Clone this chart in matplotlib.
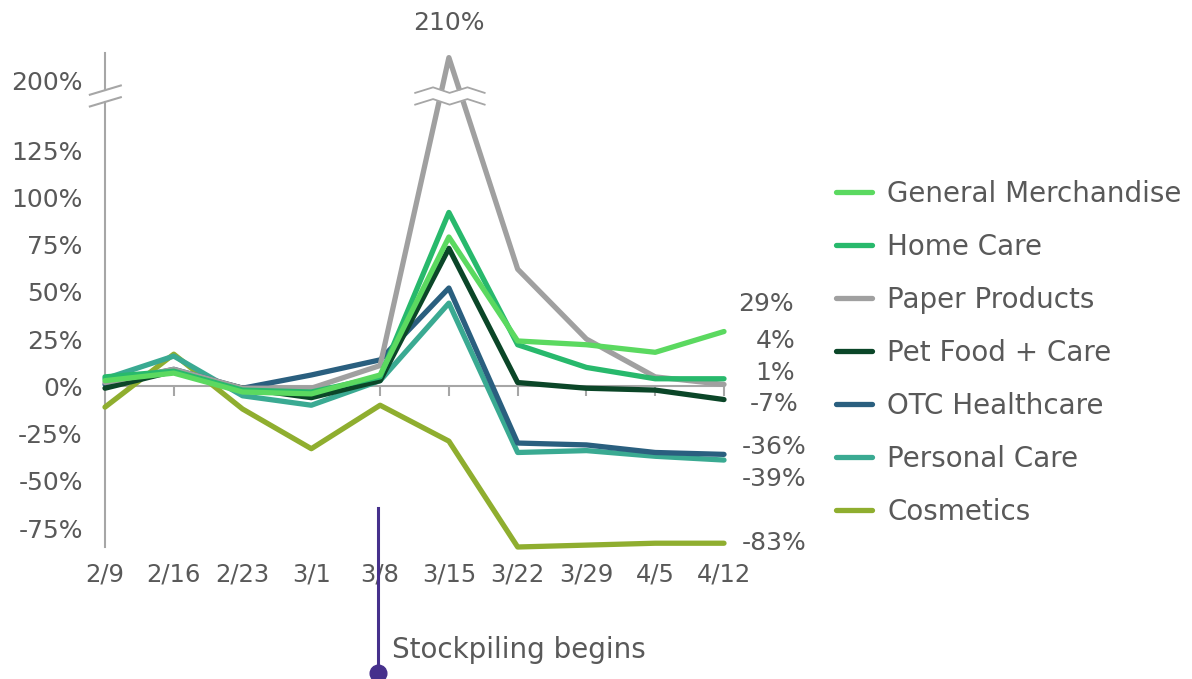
import numpy as np
import matplotlib
matplotlib.use("Agg")
import matplotlib.pyplot as plt

weeks = ["2/9", "2/16", "2/23", "3/1", "3/8", "3/15", "3/22", "3/29", "4/5", "4/12"]

general_merch = [3, 7, -3, -4, 6, 79, 24, 22, 18, 29]
home_care = [5, 8, -2, -3, 5, 92, 22, 10, 4, 4]
paper_products = [2, 9, -1, -1, 11, 210, 62, 25, 5, 1]
pet_food = [-1, 8, -1, -6, 3, 73, 2, -1, -2, -7]
otc_health = [1, 9, -1, 6, 14, 52, -30, -31, -35, -36]
personal_care = [4, 16, -5, -10, 3, 44, -35, -34, -37, -39]
cosmetics = [-11, 17, -12, -33, -10, -29, -85, -84, -83, -83]

names = ["General Merchandise", "Home Care", "Paper Products", "Pet Food + Care",
         "OTC Healthcare", "Personal Care", "Cosmetics"]
series = [general_merch, home_care, paper_products, pet_food,
          otc_health, personal_care, cosmetics]
colors = ["#5bd960", "#28b96c", "#a0a0a0", "#0b4628", "#2a5f7f", "#3aaa92", "#8fae2f"]

# end-of-line label nudges (points) so the labels don't collide
label_nudge = [(30, 20), (37, 27), (37, 8), (36, -3), (36, 5), (36, -14), (36, 0)]

yticks = [-75, -50, -25, 0, 25, 50, 75, 100, 125, 200]

TEXT = "#595959"
AXIS = "#a6a6a6"

# broken y axis: squeeze 125..200, then a slightly taller band above 200
SQ = (161.7 - 125) / 75.0
TOP = 161.7
UP = 1.22


def fwd(v):
    v = np.asarray(v, dtype=float)
    return np.where(v <= 125, v, np.where(v <= 200, 125 + (v - 125) * SQ, TOP + (v - 200) * UP))


def inv(d):
    d = np.asarray(d, dtype=float)
    return np.where(d <= 125, d, np.where(d <= TOP, 125 + (d - 125) / SQ, 200 + (d - TOP) / UP))


fig = plt.figure(figsize=(11.92, 6.79), dpi=100)
ax = fig.add_axes([105 / 1192, 132 / 679, 619 / 1192, 494 / 679])
ax.set_yscale("function", functions=(fwd, inv))
ax.set_xlim(0, len(weeks) - 1)
ax.set_ylim(-85, 212)

x = np.arange(len(weeks))

# zero line with hanging tick marks
ax.axhline(0, color=AXIS, lw=1.5, zorder=1)
ax.plot(x[1:], np.zeros(len(x) - 1), ls="none", marker=3, ms=7, mew=1.5,
        color=AXIS, zorder=1, clip_on=False)

handles = []
for i in reversed(range(len(series))):
    ln, = ax.plot(x, series[i], color=colors[i], lw=3.8, solid_capstyle="round",
                  label=names[i], zorder=3 + len(series) - i, clip_on=False)
    handles.insert(0, ln)

# break marks on the Paper Products spike
wx = np.array([4.51, 4.77, 5.01, 5.27, 5.52])
wave = np.array([-3, 3, -3, 3, -3])
ax.fill_between(wx, 177.1 + wave, 189.8 + wave, color="white", zorder=20, lw=0)
ax.plot(wx, 189.8 + wave, color=AXIS, lw=1.3, zorder=21)
ax.plot(wx, 177.1 + wave, color=AXIS, lw=1.3, zorder=21)
ax.annotate(f"{max(paper_products)}%", xy=(5, max(paper_products)), xytext=(0, 16),
            textcoords="offset points", ha="center", va="bottom",
            fontsize=18, color=TEXT, annotation_clip=False)

# left axis line with its own break
for s in ax.spines.values():
    s.set_visible(False)
ax.plot([0, 0], [-85, 177.1], color=AXIS, lw=1.5, clip_on=False, zorder=2)
ax.plot([0, 0], [189.8, 212], color=AXIS, lw=1.5, clip_on=False, zorder=2)
for yb in (177.1, 189.8):
    ax.plot([-0.22, 0.23], [yb - 5, yb + 5], color=AXIS, lw=1.5, clip_on=False, zorder=2)

ax.set_yticks(yticks)
ax.set_yticklabels([f"{t}%" for t in yticks])
ax.set_xticks(x)
ax.set_xticklabels(weeks)
ax.tick_params(axis="y", length=0, pad=16, labelsize=18, labelcolor=TEXT)
ax.tick_params(axis="x", length=0, pad=11, labelsize=17.5, labelcolor=TEXT)

# values at the last week
for vals, (dx, dy) in zip(series, label_nudge):
    ax.annotate(f"{vals[-1]}%", xy=(x[-1], vals[-1]), xytext=(dx, dy),
                textcoords="offset points", ha="center", va="center",
                fontsize=18, color=TEXT, annotation_clip=False)

# stockpiling marker
ax.plot([3.97, 3.97], [-64.4, -151.6], color="#46308c", lw=2.2, clip_on=False, zorder=5)
ax.plot([3.97], [-151.6], marker="o", ms=12, color="#46308c", clip_on=False, zorder=5)
ax.text(4.17, -139.6, "Stockpiling begins", ha="left", va="center",
        fontsize=20, color=TEXT, clip_on=False)

fig.legend(handles=handles, loc="upper left", bbox_to_anchor=(836 / 1192, 1 - 180 / 679),
           frameon=False, fontsize=20, handlelength=1.3, handletextpad=0.55,
           labelspacing=0.9, borderpad=0, borderaxespad=0, labelcolor=TEXT)

fig.savefig("out.png", dpi=100)
